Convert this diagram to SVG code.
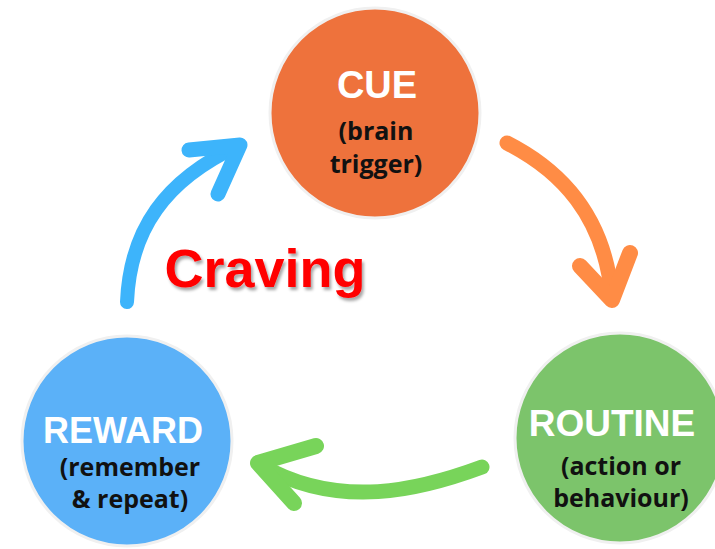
<svg xmlns="http://www.w3.org/2000/svg" width="715" height="549" viewBox="0 0 715 549">
<defs>
<filter id="shadow" x="-10%" y="-20%" width="130%" height="150%">
<feDropShadow dx="2" dy="3" stdDeviation="1.5" flood-color="#000" flood-opacity="0.35"/>
</filter>
</defs>
<style>
.ring{stroke:#f0f0f0;stroke-width:3}
.title{font-family:"Liberation Sans",Arial,sans-serif;font-weight:bold;fill:#fff;text-anchor:middle}
.sub{font-family:"Open Sans","DejaVu Sans",sans-serif;font-weight:bold;fill:#111;text-anchor:middle;font-size:25px}
.arr{fill:none;stroke-linecap:round;stroke-linejoin:round}
</style>
<rect width="715" height="549" fill="#fff"/>
<g id="connectors">
<g id="cue-routine">
<path class="arr" d="M507 143 C560 170 605 215 612 298" stroke="#FF8C45" stroke-width="15"/>
<path class="arr" d="M580 266 L612 300 L630 253" stroke="#FF8C45" stroke-width="16"/>
</g>
<g id="routine-reward">
<path class="arr" d="M482 467 C420 490 340 510 262 466" stroke="#78D45A" stroke-width="15"/>
<path class="arr" d="M316 446 L258 463 L294 503" stroke="#78D45A" stroke-width="16"/>
</g>
<g id="reward-cue">
<path class="arr" d="M127 302 C130 230 165 180 238 146" stroke="#3DB4FB" stroke-width="14"/>
<path class="arr" d="M189 150 L240 145 L218 194" stroke="#3DB4FB" stroke-width="15"/>
</g>
</g>
<g id="cue">
<circle class="ring" cx="375" cy="113" r="105" fill="#EE723C"/>
<text class="title" x="377" y="98" font-size="38">CUE</text>
<text class="sub" x="376" y="140">(brain</text>
<text class="sub" x="376" y="173">trigger)</text>
</g>
<g id="routine">
<circle class="ring" cx="620" cy="438" r="105" fill="#7CC46B"/>
<text class="title" x="612" y="436" font-size="37">ROUTINE</text>
<text class="sub" x="621" y="475">(action or</text>
<text class="sub" x="621" y="507">behaviour)</text>
</g>
<g id="reward">
<circle class="ring" cx="127" cy="441" r="105" fill="#5BB1F8"/>
<text class="title" x="123" y="443" font-size="36">REWARD</text>
<text class="sub" x="130" y="476">(remember</text>
<text class="sub" x="130" y="508">&amp; repeat)</text>
</g>
<g id="craving">
<text x="265" y="287" font-family="Liberation Sans,Arial,sans-serif" font-weight="bold" font-size="54" fill="#FF0000" text-anchor="middle" filter="url(#shadow)">Craving</text>
</g>
</svg>
